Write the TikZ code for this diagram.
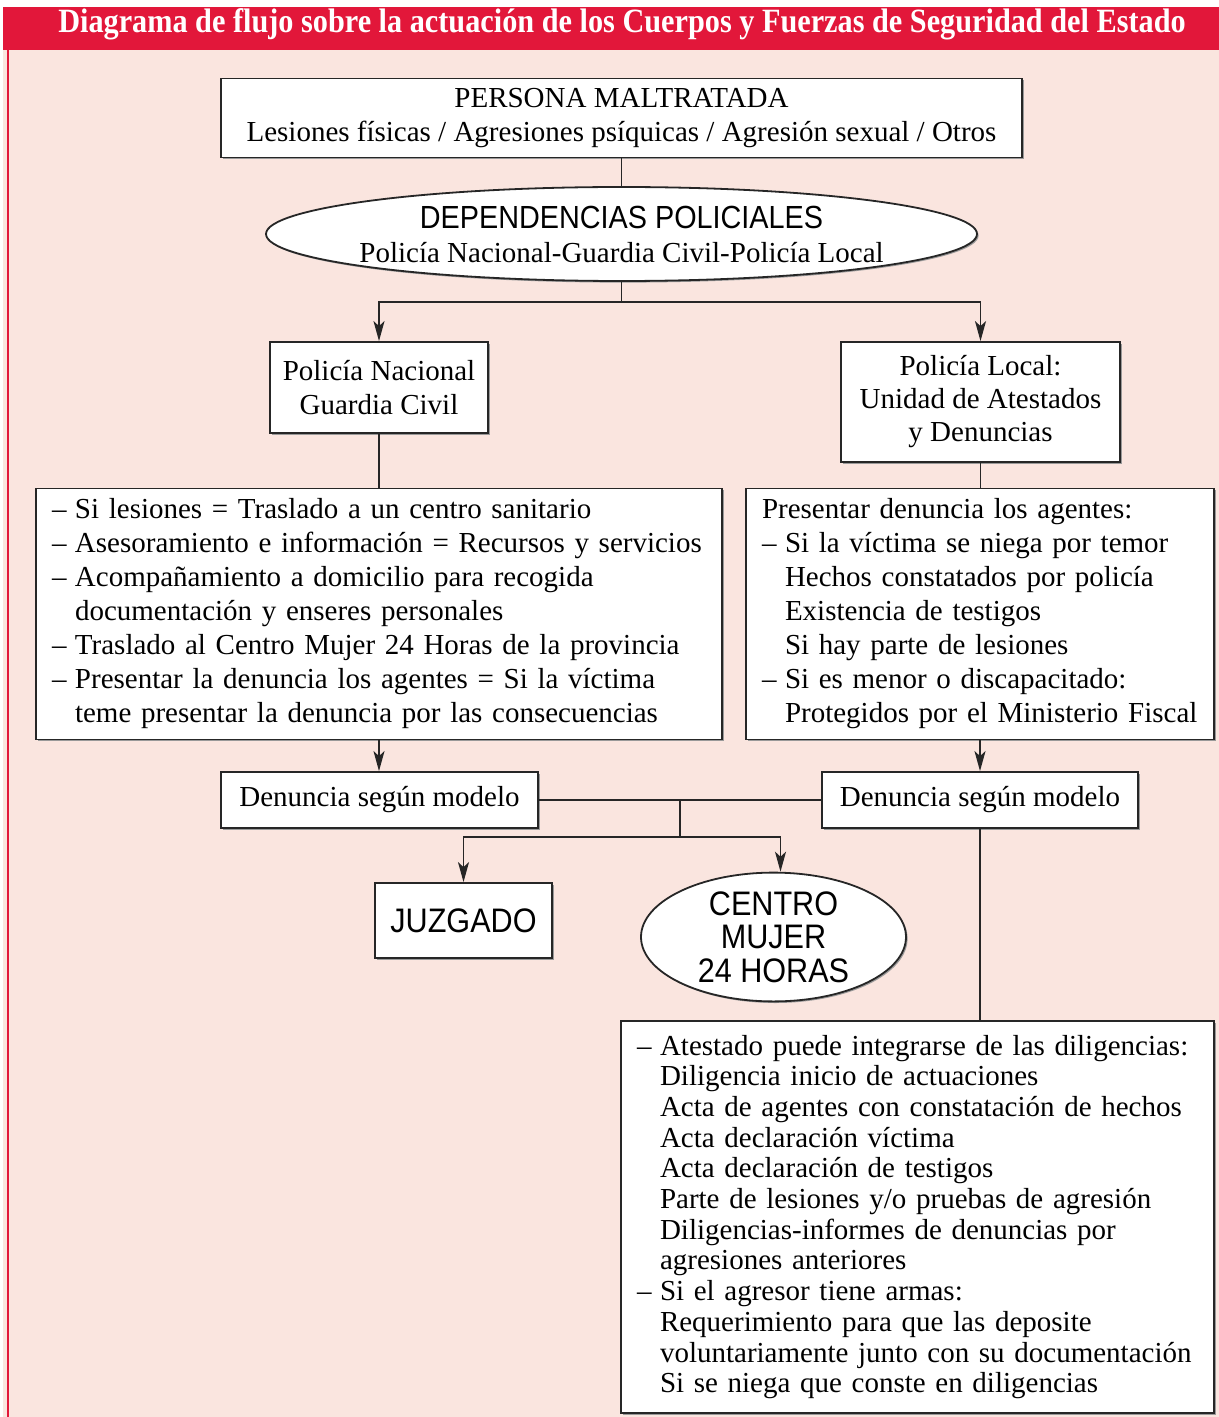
\documentclass[tikz,border=0pt]{standalone}
\usepackage{fontspec}
\setmainfont{Liberation Serif}
\newfontfamily\sansf{Liberation Sans}[FakeStretch=0.9]
\newfontfamily\titlef{Liberation Serif}[FakeStretch=0.89]
\usetikzlibrary{arrows.meta,shadows,shapes.geometric}
\definecolor{hdrred}{HTML}{E2173A}
\definecolor{bgpink}{HTML}{FAE5DF}
\newcommand\li[1]{\mbox{\makebox[11.5pt][l]{–}#1}}
\newcommand\lc[1]{\mbox{\hspace*{11.5pt}#1}}
\tikzset{
  box/.style={draw=black!85, line width=0.9pt, fill=white, inner sep=0pt,
    drop shadow={shadow xshift=0.8pt, shadow yshift=-0.8pt, fill=black!40, opacity=1}},
  ovalbox/.style={box, ellipse},
  txt/.style={font=\fontsize{14.5}{17}\selectfont},
  stxt/.style={font=\sansf\fontsize{17}{16.75}\selectfont},
  listbox/.style={box, txt, align=left, inner xsep=8pt},
  conn/.style={draw=black!85, line width=0.9pt},
  arr/.style={conn, -{Stealth[length=10pt, width=5.5pt, inset=2.5pt]}}
}
\begin{document}
\begin{tikzpicture}[x=0.5pt, y=-0.5pt]
\useasboundingbox (0,0) rectangle (1219,1417);
\fill[white] (0,0) rectangle (1219,1417);
\fill[bgpink] (3,50) rectangle (1219,1417);
\fill[hdrred] (3,7) rectangle (1219,50);
\draw[hdrred, line width=1pt] (8,50) -- (8,1417);
\node[text=white, font=\titlef\bfseries\fontsize{17}{18}\selectfont] (title) at (622,24)
  {Diagrama de flujo sobre la actuación de los Cuerpos y Fuerzas de Seguridad del Estado};

% nodes
\node[box, txt, align=center, minimum width=400.5pt, minimum height=39.5pt] (persona) at (621.5,118)
  {PERSONA MALTRATADA\\Lesiones físicas / Agresiones psíquicas / Agresión sexual / Otros};
\node[ovalbox, txt, align=center, inner xsep=-40pt, inner ysep=-2pt, minimum width=355.5pt, minimum height=47pt] (dep) at (621.5,234)
  {{\sansf\fontsize{16}{17}\selectfont DEPENDENCIAS POLICIALES}\\Policía Nacional-Guardia Civil-Policía Local};
\node[box, txt, align=center, minimum width=109pt, minimum height=45.5pt] (pn) at (379,387.5)
  {Policía Nacional\\Guardia Civil};
\node[box, txt, align=center, minimum width=139.5pt, minimum height=60pt, font=\fontsize{14.5}{16.5}\selectfont] (pl) at (980.5,402)
  {Policía Local:\\Unidad de Atestados\\y Denuncias};
\node[listbox, text width=327pt, minimum height=125.5pt] (lbig) at (379,614)
  {\li{Si lesiones = Traslado a un centro sanitario}\\
   \li{Asesoramiento e información = Recursos y servicios}\\
   \li{Acompañamiento a domicilio para recogida}\\
   \lc{documentación y enseres personales}\\
   \li{Traslado al Centro Mujer 24 Horas de la provincia}\\
   \li{Presentar la denuncia los agentes = Si la víctima}\\
   \lc{teme presentar la denuncia por las consecuencias}};
\node[listbox, text width=218pt, minimum height=125.5pt] (rbig) at (980,614)
  {Presentar denuncia los agentes:\\
   \li{Si la víctima se niega por temor}\\
   \lc{Hechos constatados por policía}\\
   \lc{Existencia de testigos}\\
   \lc{Si hay parte de lesiones}\\
   \li{Si es menor o discapacitado:}\\
   \lc{Protegidos por el Ministerio Fiscal}};
\node[box, txt, minimum width=158.5pt, minimum height=28pt] (denl) at (379.5,800) {\raisebox{-2pt}{Denuncia según modelo}};
\node[box, txt, minimum width=158pt, minimum height=28pt] (denr) at (980,800) {\raisebox{-2pt}{Denuncia según modelo}};
\node[box, stxt, minimum width=88.5pt, minimum height=37.5pt] (juz) at (463.5,920.5) {JUZGADO};
\node[ovalbox, stxt, align=center, minimum width=132.5pt, minimum height=59pt] (cm) at (773.5,937)
  {CENTRO\\MUJER\\24 HORAS};
\node[listbox, text width=280.5pt, minimum height=196pt, font=\fontsize{14.5}{15.35}\selectfont] (bot) at (917.5,1217)
  {\li{Atestado puede integrarse de las diligencias:}\\
   \lc{Diligencia inicio de actuaciones}\\
   \lc{Acta de agentes con constatación de hechos}\\
   \lc{Acta declaración víctima}\\
   \lc{Acta declaración de testigos}\\
   \lc{Parte de lesiones y/o pruebas de agresión}\\
   \lc{Diligencias-informes de denuncias por}\\
   \lc{agresiones anteriores}\\
   \li{Si el agresor tiene armas:}\\
   \lc{Requerimiento para que las deposite}\\
   \lc{voluntariamente junto con su documentación}\\
   \lc{Si se niega que conste en diligencias}};

% connectors
\draw[conn] (persona.south) -- (dep.north);
\coordinate (split1) at (621.5,302);
\draw[conn] (dep.south) -- (split1);
\draw[arr] (split1) -| (pn.north);
\draw[arr] (split1) -| (pl.north);
\draw[conn] (pn.south) -- (pn.south |- lbig.north);
\draw[conn] (pl.south) -- (pl.south |- rbig.north);
\draw[arr] (lbig.south) -- (lbig.south |- denl.north);
\draw[arr] (denr.north |- rbig.south) -- (denr.north);
\draw[conn] (denl.east) -- (denr.west);
\coordinate (j) at (680,800);
\coordinate (split2) at (680,837);
\draw[conn] (j) -- (split2);
\draw[arr] (split2) -| (juz.north);
\draw[arr] (split2) -| ([xshift=3.5pt]cm.north);
\draw[conn] (denr.south) -- (denr.south |- bot.north);
\end{tikzpicture}
\end{document}
